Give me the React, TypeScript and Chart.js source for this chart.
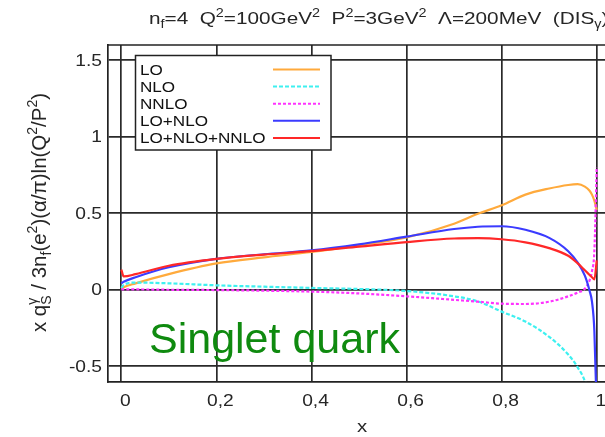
import React, { useEffect, useRef } from "react";
import { Chart, registerables } from "chart.js";

Chart.register(...registerables);

// ---------- data ----------
const xGrid = [0, 0.005, 0.03, 0.1, 0.2, 0.3, 0.4, 0.5, 0.6, 0.7, 0.75, 0.8, 0.85, 0.9, 0.94, 0.96, 0.975, 0.985, 0.99, 0.995, 1.0];
const seriesLO = [0.005, 0.015, 0.04, 0.1, 0.17, 0.21, 0.245, 0.29, 0.34, 0.43, 0.495, 0.55, 0.62, 0.66, 0.683, 0.688, 0.672, 0.645, 0.62, 0.58, 0.52];
const seriesNLO = [0.01, 0.03, 0.045, 0.04, 0.027, 0.018, 0.01, 0.003, -0.01, -0.045, -0.078, -0.145, -0.21, -0.31, -0.425, -0.51, -0.6, -0.72, -0.8, -0.9, -1.0];
const seriesNNLO = [0.0, 0.0, 0.0, -0.002, -0.004, -0.008, -0.014, -0.026, -0.045, -0.068, -0.08, -0.093, -0.095, -0.08, -0.045, -0.02, 0.005, 0.06, 0.12, 0.25, 0.8];
const seriesLONLO = [0.04, 0.05, 0.08, 0.145, 0.2, 0.23, 0.255, 0.295, 0.345, 0.395, 0.41, 0.413, 0.39, 0.337, 0.25, 0.175, 0.09, -0.01, -0.08, -0.27, -0.8];
const seriesAll = [0.13, 0.085, 0.1, 0.155, 0.2, 0.228, 0.25, 0.28, 0.31, 0.333, 0.335, 0.328, 0.308, 0.27, 0.22, 0.17, 0.125, 0.095, 0.08, 0.065, 0.19];

const seriesNames = ["LO", "NLO", "NNLO", "LO+NLO", "LO+NLO+NNLO"];
const seriesColors = ["#ffaa3c", "#3ef0f0", "#ff33ff", "#3b3bff", "#ff2828"];
const seriesDash: number[][] = [[], [4, 2], [3, 2], [], []];

const xTickValues = [0, 0.2, 0.4, 0.6, 0.8, 1];
const xTickLabels = ["0", "0,2", "0,4", "0,6", "0,8", "1"];
const yTickValues = [-0.5, 0, 0.5, 1, 1.5];
const yTickLabels = ["-0.5", "0", "0.5", "1", "1.5"];

const FONT = '"Liberation Sans", Arial, Helvetica, sans-serif';
const TEXT = "#262626";

type Seg = { t: string; k?: "sub" | "sup" | "both"; s?: string };

function richWidth(ctx: CanvasRenderingContext2D, segs: Seg[], size: number) {
  const small = Math.round(size * 0.7);
  let w = 0;
  for (const s of segs) {
    if (!s.k) {
      ctx.font = `${size}px ${FONT}`;
      w += ctx.measureText(s.t).width;
    } else {
      ctx.font = `${small}px ${FONT}`;
      const a = ctx.measureText(s.t).width;
      const b = s.s ? ctx.measureText(s.s).width : 0;
      w += Math.max(a, b);
    }
  }
  return w;
}

function drawRich(ctx: CanvasRenderingContext2D, segs: Seg[], x: number, y: number, size: number) {
  const small = Math.round(size * 0.7);
  let cx = x;
  ctx.textAlign = "left";
  ctx.textBaseline = "alphabetic";
  for (const s of segs) {
    if (!s.k) {
      ctx.font = `${size}px ${FONT}`;
      ctx.fillText(s.t, cx, y);
      cx += ctx.measureText(s.t).width;
    } else {
      ctx.font = `${small}px ${FONT}`;
      const a = ctx.measureText(s.t).width;
      if (s.k === "sub") {
        ctx.fillText(s.t, cx, y + size * 0.25);
        cx += a;
      } else if (s.k === "sup") {
        ctx.fillText(s.t, cx, y - size * 0.42);
        cx += a;
      } else {
        ctx.fillText(s.t, cx, y + size * 0.25);
        const b = ctx.measureText(s.s || "").width;
        ctx.fillText(s.s || "", cx, y - size * 0.42);
        cx += Math.max(a, b);
      }
    }
  }
  return cx - x;
}

function drawText(ctx: CanvasRenderingContext2D, s: string, x: number, y: number, size: number, sx: number, align: "left" | "center" | "right") {
  ctx.save();
  ctx.font = `${size}px ${FONT}`;
  const w = ctx.measureText(s).width * sx;
  const left = align === "center" ? x - w / 2 : align === "right" ? x - w : x;
  ctx.translate(left, y);
  ctx.scale(sx, 1);
  ctx.textAlign = "left";
  ctx.textBaseline = "alphabetic";
  ctx.fillText(s, 0, 0);
  ctx.restore();
}

const titleSegs: Seg[] = [
  { t: "n" }, { t: "f", k: "sub" }, { t: "=4  Q" }, { t: "2", k: "sup" }, { t: "=100GeV" }, { t: "2", k: "sup" },
  { t: "  P" }, { t: "2", k: "sup" }, { t: "=3GeV" }, { t: "2", k: "sup" },
  { t: "  Λ=200MeV  (DIS" }, { t: "γ", k: "sub" }, { t: ")" },
];

const yTitle: Seg[] = [
  { t: "x q" },
  { t: "S", k: "both", s: "γ" },
  { t: " / 3n" },
  { t: "f", k: "sub" },
  { t: "(e" },
  { t: "2", k: "sup" },
  { t: ")(α/π)ln(Q" },
  { t: "2", k: "sup" },
  { t: "/P" },
  { t: "2", k: "sup" },
  { t: ")" },
];

const decorPlugin = {
  id: "decor",
  afterDraw(chart: any) {
    const ctx: CanvasRenderingContext2D = chart.ctx;
    const a = chart.chartArea;
    const xs = chart.scales.x;
    const ys = chart.scales.y;
    ctx.save();
    // top border
    ctx.strokeStyle = "#222";
    ctx.lineWidth = 1.7;
    ctx.beginPath();
    ctx.moveTo(a.left, a.top);
    ctx.lineTo(a.right, a.top);
    ctx.stroke();

    // tick labels
    ctx.fillStyle = TEXT;
    xTickValues.forEach((v, i) => {
      drawText(ctx, xTickLabels[i], xs.getPixelForValue(v) + 4, 406, 16, 1.2, "center");
    });
    yTickValues.forEach((v, i) => {
      drawText(ctx, yTickLabels[i], 102, ys.getPixelForValue(v) + 6, 16, 1.2, "right");
    });

    // legend
    const lx = 135.5, ly = 55.5, lw = 195.5, lh = 94.5;
    ctx.fillStyle = "#fff";
    ctx.fillRect(lx, ly, lw, lh);
    ctx.strokeStyle = "#222";
    ctx.lineWidth = 1.5;
    ctx.strokeRect(lx, ly, lw, lh);
    seriesNames.forEach((name, i) => {
      const cy = 69.5 + i * 17.1;
      ctx.fillStyle = "#111";
      drawText(ctx, name, 140, cy + 5.5, 14.5, 1.18, "left");
      ctx.strokeStyle = seriesColors[i];
      ctx.lineWidth = 2;
      ctx.setLineDash(seriesDash[i]);
      ctx.beginPath();
      ctx.moveTo(273, cy);
      ctx.lineTo(320, cy);
      ctx.stroke();
      ctx.setLineDash([]);
    });

    // title
    ctx.fillStyle = TEXT;
    ctx.save();
    ctx.translate(149, 24);
    ctx.scale(1.2, 1);
    drawRich(ctx, titleSegs, 0, 0, 17.3);
    ctx.restore();

    // y title
    const w = richWidth(ctx, yTitle, 20.5);
    ctx.save();
    ctx.translate(46, 212.5);
    ctx.rotate(-Math.PI / 2);
    ctx.fillStyle = TEXT;
    drawRich(ctx, yTitle, -w / 2, 0, 20.5);
    ctx.restore();

    // x title
    ctx.fillStyle = TEXT;
    drawText(ctx, "x", 362, 432, 17, 1.2, "center");

    // annotation
    ctx.font = `43px ${FONT}`;
    ctx.textAlign = "left";
    ctx.textBaseline = "alphabetic";
    ctx.fillStyle = "#0f8a0f";
    ctx.fillText("Singlet quark", 149, 353);
    ctx.restore();
  },
};

export default function App() {
  const ref = useRef<HTMLCanvasElement>(null);
  useEffect(() => {
    if (!ref.current) return;
    const allSeries = [seriesLO, seriesNLO, seriesNNLO, seriesLONLO, seriesAll];
    const datasets = allSeries.map((vals, i) => ({
      label: seriesNames[i],
      data: xGrid.map((x, j) => ({ x, y: vals[j] })),
      showLine: true,
      borderColor: seriesColors[i],
      backgroundColor: seriesColors[i],
      borderWidth: 2.2,
      borderDash: seriesDash[i],
      pointRadius: 0,
      cubicInterpolationMode: "monotone" as const,
      fill: false,
      order: 5 - i,
    }));
    const chart = new Chart(ref.current, {
      type: "scatter",
      data: { datasets },
      plugins: [decorPlugin],
      options: {
        animation: false,
        responsive: false,
        events: [],
        layout: { padding: { top: 45, right: 29, left: 0, bottom: 0 } },
        plugins: { legend: { display: false }, tooltip: { enabled: false }, title: { display: false } },
        scales: {
          x: {
            type: "linear",
            min: -0.028,
            max: 1.03,
            afterBuildTicks: (s: any) => {
              s.ticks = xTickValues.map((v) => ({ value: v }));
            },
            afterFit: (s: any) => {
              s.height = 55;
            },
            ticks: { display: false },
            grid: { color: "#2a2a2a", lineWidth: 1.7, drawTicks: false },
            border: { display: true, color: "#222", width: 1.7 },
          },
          y: {
            type: "linear",
            min: -0.605,
            max: 1.598,
            afterBuildTicks: (s: any) => {
              s.ticks = yTickValues.map((v) => ({ value: v }));
            },
            afterFit: (s: any) => {
              s.width = 108;
            },
            ticks: { display: false },
            grid: { color: "#2a2a2a", lineWidth: 1.7, drawTicks: false },
            border: { display: true, color: "#222", width: 1.7 },
          },
        },
      },
    });
    return () => chart.destroy();
  }, []);
  return (
    <div style={{ position: "absolute", left: 0, top: 0, width: 605, height: 437, overflow: "hidden", background: "#fff" }}>
      <canvas ref={ref} width={640} height={437} style={{ width: 640, height: 437, display: "block" }} />
    </div>
  );
}
